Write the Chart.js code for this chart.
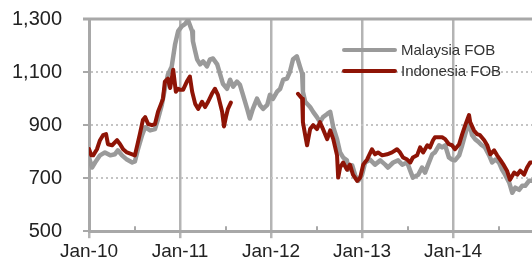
<!DOCTYPE html>
<html>
<head>
<meta charset="utf-8">
<script src="https://cdn.jsdelivr.net/npm/chart.js@4.4.1/dist/chart.umd.min.js"></script>
<style>
  html, body { margin: 0; padding: 0; background: #fff; }
  #wrap { width: 532px; height: 265px; }
</style>
</head>
<body>
<div id="wrap"><canvas id="priceChart"></canvas></div>
<script>
// Palm oil FOB prices, US$/t; x = months since Jan-2010
var malaysiaMonths = [0, 0.4, 0.8, 1.45, 2.1, 2.8, 3.4, 3.8, 4.35, 5.0, 5.7, 6.05, 6.45, 7.0, 7.4, 8.05, 8.7, 9.1, 9.6, 10.0,
  10.4, 10.9, 11.35, 11.75, 12.25, 12.65, 13.05, 13.6, 13.7, 14.0, 14.25, 14.65, 15.05, 15.55, 15.95, 16.35, 16.9, 17.3, 17.65, 18.2,
  18.6, 19.0, 19.5, 19.9, 20.3, 20.85, 21.2, 21.6, 22.15, 22.55, 22.95, 23.5, 23.85, 24.25, 24.8, 25.2, 25.6, 26.1, 26.5, 26.9,
  27.4, 27.8, 28.1, 28.2, 28.5, 29.15, 29.55, 30.05, 30.45, 30.85, 31.4, 31.8, 32.2, 32.7, 33.1, 33.5, 34.0, 34.15, 34.7, 35.1,
  35.5, 36.0, 36.4, 37.05, 37.7, 38.4, 39.05, 39.4, 40.1, 40.75, 41.3, 41.95, 42.35, 42.7, 43.4, 43.9, 44.3, 44.7, 45.25, 45.6,
  46.15, 46.55, 46.95, 47.45, 47.85, 48.25, 48.8, 49.2, 49.6, 50.1, 50.5, 50.9, 51.4, 51.8, 52.2, 52.75, 53.15, 53.55, 54.05, 54.45,
  54.85, 55.4, 55.8, 56.2, 56.7, 57.1, 57.5, 58.0, 58.4];
var malaysiaValues = [778, 740, 759, 786, 797, 786, 790, 805, 786, 770, 759, 763, 809, 862, 892, 880, 885, 923, 976, 1037,
  1090, 1120, 1205, 1254, 1273, 1281, 1296, 1254, 1216, 1178, 1148, 1129, 1140, 1121, 1148, 1151, 1129, 1090, 1056, 1037,
  1071, 1045, 1064, 1052, 1014, 961, 925, 961, 1000, 975, 961, 976, 1014, 999, 1026, 1037, 1071, 1075, 1102, 1148,
  1159, 1121, 1094, 1026, 988, 968, 950, 930, 911, 930, 942, 950, 892, 847, 797, 778, 767, 732, 748, 710,
  690, 713, 759, 770, 751, 767, 751, 740, 759, 767, 751, 759, 728, 702, 713, 740, 721, 751, 790, 797,
  824, 816, 824, 778, 770, 767, 786, 824, 866, 911, 862, 847, 835, 824, 816, 786, 759, 770, 759, 732,
  713, 683, 645, 664, 656, 671, 671, 690, 690];

var indonesiaMonths = [0, 0.3, 0.55, 1.05, 1.45, 1.85, 2.25, 2.5, 3.05, 3.7, 4.1, 4.5, 5.0, 5.7, 6.05, 6.45, 6.7, 7.1, 7.4, 7.8,
  8.3, 8.7, 9.1, 9.5, 9.75, 10.0, 10.4, 10.7, 11.1, 11.45, 11.75, 12.0, 12.4, 12.9, 13.3, 13.6, 14.0, 14.4, 14.9, 15.3,
  15.7, 16.2, 16.6, 17.0, 17.55, 17.8, 18.05, 18.3, 18.7, 19.0,
  27.55, 28.1, 28.2, 28.5, 28.75, 28.9, 29.15, 29.55, 30.05, 30.45, 30.85, 31.4, 31.8, 32.2, 32.7, 32.85, 33.1, 33.5, 34.0, 34.4,
  34.8, 35.35, 35.75, 36.15, 36.65, 37.3, 37.7, 38.1, 38.65, 39.3, 39.95, 40.6, 41.0, 41.4, 41.95, 42.35, 42.7, 43.25, 43.65, 44.05,
  44.6, 44.95, 45.35, 45.6, 46.55, 46.95, 47.45, 47.85, 48.25, 48.8, 49.2, 49.6, 50.1, 50.25, 50.75, 51.15, 51.55, 52.1, 52.5, 52.9,
  53.4, 53.8, 54.2, 54.7, 55.1, 55.5, 56.05, 56.45, 56.85, 57.35, 57.75, 58.15, 58.4];
var indonesiaValues = [810, 786, 786, 809, 843, 862, 866, 828, 824, 843, 828, 809, 797, 790, 786, 835, 866, 919, 930, 904,
  900, 904, 950, 980, 999, 1064, 1075, 1040, 1109, 1026, 1037, 1033, 1033, 1064, 1083, 1026, 980, 961, 988, 968,
  988, 1018, 1037, 1014, 950, 895, 930, 960, 985, null,
  1018, 999, 911, 862, 824, 847, 885, 900, 885, 911, 885, 847, 880, 847, 786, 702, 740, 759, 732, 751,
  713, 690, 702, 751, 770, 809, 790, 797, 786, 790, 797, 809, 797, 778, 770, 759, 778, 786, 816, 797,
  824, 816, 843, 854, 854, 847, 828, 824, 809, 828, 866, 900, 938, 911, 880, 866, 862, 843, 824, 790,
  805, 786, 770, 748, 728, 694, 721, 713, 728, 713, 740, 759, 759];

var yearTicks = [0, 12, 24, 36, 48];
var yearLabels = ['Jan-10', 'Jan-11', 'Jan-12', 'Jan-13', 'Jan-14'];
var midYearTicks = [6, 18, 30, 42, 54];
var yTicks = [500, 700, 900, 1100, 1300];

function toPoints(xs, ys) {
  return xs.map(function (x, i) { return { x: x, y: ys[i] }; });
}

var axisGrey = '#a8a8a8';
var FONT = 'Liberation Sans';

// top frame line, small inward mid-year ticks and the in-plot legend
var extras = {
  id: 'extras',
  beforeDatasetsDraw: function (chart) {
    var ctx = chart.ctx;
    var area = chart.chartArea;
    ctx.save();
    ctx.strokeStyle = axisGrey;
    ctx.lineWidth = 3;
    ctx.beginPath();
    ctx.moveTo(area.left - 6, area.top);
    ctx.lineTo(area.right, area.top);
    ctx.stroke();
    ctx.restore();
  },
  afterDraw: function (chart) {
    var ctx = chart.ctx;
    var xs = chart.scales.x;
    var area = chart.chartArea;
    ctx.save();
    ctx.strokeStyle = axisGrey;
    ctx.lineWidth = 2;
    midYearTicks.forEach(function (m) {
      var px = Math.round(xs.getPixelForValue(m));
      ctx.beginPath();
      ctx.moveTo(px, area.bottom - 5);
      ctx.lineTo(px, area.bottom);
      ctx.stroke();
    });
    // legend
    ctx.font = '15px "' + FONT + '"';
    ctx.textBaseline = 'middle';
    ctx.lineCap = 'round';
    chart.data.datasets.forEach(function (ds, i) {
      var y = area.top + 31 + i * 21;
      ctx.strokeStyle = ds.borderColor;
      ctx.lineWidth = 4;
      ctx.beginPath();
      ctx.moveTo(344, y);
      ctx.lineTo(395, y);
      ctx.stroke();
      ctx.fillStyle = '#333';
      ctx.fillText(ds.label, 401, y + 1);
    });
    ctx.restore();
  }
};

new Chart(document.getElementById('priceChart'), {
  type: 'line',
  data: {
    datasets: [{
      label: 'Malaysia FOB',
      data: toPoints(malaysiaMonths, malaysiaValues),
      borderColor: '#9a9a9a',
      borderWidth: 4.5,
      order: 2
    }, {
      label: 'Indonesia FOB',
      data: toPoints(indonesiaMonths, indonesiaValues),
      borderColor: '#8e1406',
      borderWidth: 4,
      order: 1
    }]
  },
  options: {
    responsive: true,
    maintainAspectRatio: false,
    animation: false,
    spanGaps: false,
    layout: { padding: { top: 0, right: 0, left: 0, bottom: 0 } },
    elements: {
      point: { radius: 0 },
      line: { tension: 0, borderJoinStyle: 'round', borderCapStyle: 'round' }
    },
    plugins: {
      legend: { display: false },
      tooltip: { enabled: false }
    },
    scales: {
      x: {
        type: 'linear',
        min: 0,
        max: 58.4,
        afterBuildTicks: function (scale) {
          scale.ticks = yearTicks.concat(midYearTicks).sort(function (a, b) { return a - b; })
            .map(function (v) { return { value: v }; });
        },
        ticks: {
          autoSkip: false,
          maxRotation: 0,
          padding: 2,
          color: '#222',
          font: { family: FONT, size: 19 },
          callback: function (v) {
            var i = yearTicks.indexOf(v);
            return i >= 0 ? yearLabels[i] : '';
          }
        },
        grid: {
          lineWidth: 2.5,
          tickLength: 7,
          color: function (c) { return yearTicks.indexOf(c.tick && c.tick.value) >= 0 ? '#b4b4b4' : 'transparent'; },
          tickColor: function (c) { return yearTicks.indexOf(c.tick && c.tick.value) >= 0 ? '#b4b4b4' : 'transparent'; }
        },
        border: { color: axisGrey, width: 3 }
      },
      y: {
        min: 500,
        max: 1300,
        afterBuildTicks: function (scale) {
          scale.ticks = yTicks.map(function (v) { return { value: v }; });
        },
        afterFit: function (scale) {
          scale.width = 89;
          scale.paddingTop = 19;
          scale.paddingBottom = 12;
        },
        ticks: {
          padding: 21,
          color: '#222',
          font: { family: FONT, size: 20 },
          callback: function (v) { return v.toLocaleString('en-US'); }
        },
        grid: {
          lineWidth: 2,
          tickLength: 6,
          color: function (c) {
            var v = c.tick && c.tick.value;
            return (v === 500 || v === 1300) ? 'transparent' : '#c4c4c4';
          },
          tickColor: axisGrey,
          tickBorderDash: []
        },
        border: { color: axisGrey, width: 3, dash: [2, 3] }
      }
    }
  },
  plugins: [extras]
});
</script>
</body>
</html>
